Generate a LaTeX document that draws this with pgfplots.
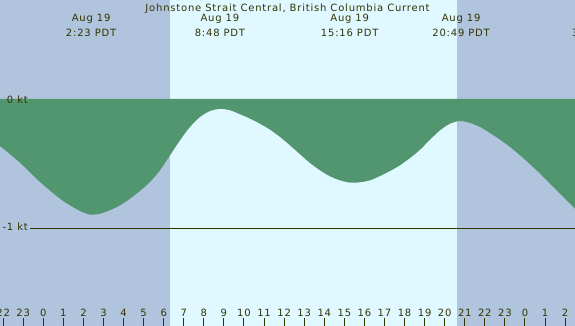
\documentclass[border=0pt]{standalone}
\usepackage{fontspec}
\setmainfont{DejaVu Sans}[LetterSpace=8]
\usepackage{pgfplots}
\pgfplotsset{compat=1.18}
\definecolor{night}{RGB}{176,196,222}
\definecolor{day}{RGB}{224,248,255}
\definecolor{tidegreen}{RGB}{82,150,112}
\definecolor{txt}{RGB}{51,51,0}
\begin{document}
\fontsize{10bp}{12bp}\selectfont
\begin{tikzpicture}[font=\fontsize{10bp}{12bp}\selectfont, text=txt]
\useasboundingbox (0,0) rectangle (575bp,326bp);
\clip (0,0) rectangle (575bp,326bp);
\begin{axis}[at={(0,0)}, anchor=south west, width=575bp, height=326bp, scale only axis,
  xmin=-2.157, xmax=26.492, ymin=-1.753, ymax=0.764,
  axis line style={draw=none}, ytick=\empty,
  xtick={-2,-1,0,1,2,3,4,5,6,7,8,9,10,11,12,13,14,15,16,17,18,19,20,21,22,23,24,25,26},
  xticklabels={22,23,0,1,2,3,4,5,6,7,8,9,10,11,12,13,14,15,16,17,18,19,20,21,22,23,0,1,2},
  tick align=inside, xtick pos=bottom, major tick length=8bp,
  xtick style={draw=txt, line width=1bp},
  xticklabel style={anchor=base, yshift=10bp, text=txt, font=\fontsize{10bp}{12bp}\selectfont},
  extra x ticks={0,24}, extra x tick labels={},
  extra x tick style={tick style={draw=txt, line width=3bp}},
  axis on top, clip=false]
\fill[night] (axis cs:-2.157,-1.753) rectangle (axis cs:6.313,0.764);
\fill[day] (axis cs:6.313,-1.753) rectangle (axis cs:20.61,0.764);
\fill[night] (axis cs:20.61,-1.753) rectangle (axis cs:26.492,0.764);
\addplot[fill=tidegreen, draw=none, smooth] coordinates {
(-2.157,-0.363) (-1.161,-0.492) (-0.164,-0.641) (0.832,-0.770) (1.330,-0.821)
(1.829,-0.865) (2.327,-0.893) (2.825,-0.886) (3.323,-0.859) (3.822,-0.821)
(4.320,-0.770) (4.818,-0.710) (5.316,-0.641) (5.815,-0.551) (6.313,-0.435)
(6.811,-0.319) (7.309,-0.216) (7.808,-0.139) (8.306,-0.093) (8.804,-0.077)
(9.302,-0.087) (9.801,-0.118) (10.299,-0.152) (10.797,-0.191) (11.295,-0.237)
(11.794,-0.293) (12.292,-0.358) (12.790,-0.427) (13.288,-0.494) (13.787,-0.551)
(14.285,-0.597) (14.783,-0.628) (15.282,-0.646) (15.780,-0.643) (16.278,-0.628)
(16.776,-0.595) (17.275,-0.556) (17.773,-0.512) (18.271,-0.456) (18.769,-0.392)
(19.268,-0.314) (19.766,-0.242) (20.264,-0.191) (20.762,-0.170) (21.261,-0.185)
(21.759,-0.216) (22.257,-0.263) (22.755,-0.314) (23.254,-0.371) (23.752,-0.435)
(24.250,-0.504) (24.748,-0.577) (25.247,-0.654) (25.745,-0.731) (26.492,-0.847)} \closedcycle;
\addplot[txt, line width=1bp] coordinates {(-0.66,-1) (26.492,-1)};
\node[anchor=base east, inner sep=0] at (axis cs:-0.762,-0.0386) {0 kt};
\node[anchor=base east, inner sep=0] at (axis cs:-0.762,-1.017) {-1 kt};
\node[anchor=base, inner sep=0] at (axis cs:12.17,0.676) {Johnstone Strait Central, British Columbia Current};
\node[anchor=base, inner sep=0] at (axis cs:2.383,0.595) {Aug 19};
\node[anchor=base, inner sep=0] at (axis cs:2.383,0.486) {2:23 PDT};
\node[anchor=base, inner sep=0] at (axis cs:8.8,0.595) {Aug 19};
\node[anchor=base, inner sep=0] at (axis cs:8.8,0.486) {8:48 PDT};
\node[anchor=base, inner sep=0] at (axis cs:15.267,0.595) {Aug 19};
\node[anchor=base, inner sep=0] at (axis cs:15.267,0.486) {15:16 PDT};
\node[anchor=base, inner sep=0] at (axis cs:20.817,0.595) {Aug 19};
\node[anchor=base, inner sep=0] at (axis cs:20.817,0.486) {20:49 PDT};
\node[anchor=base, inner sep=0] at (axis cs:27.66,0.595) {Aug 20};
\node[anchor=base west, inner sep=0] at (axis cs:26.34,0.486) {3:40 PDT};
\end{axis}
\end{tikzpicture}
\end{document}
